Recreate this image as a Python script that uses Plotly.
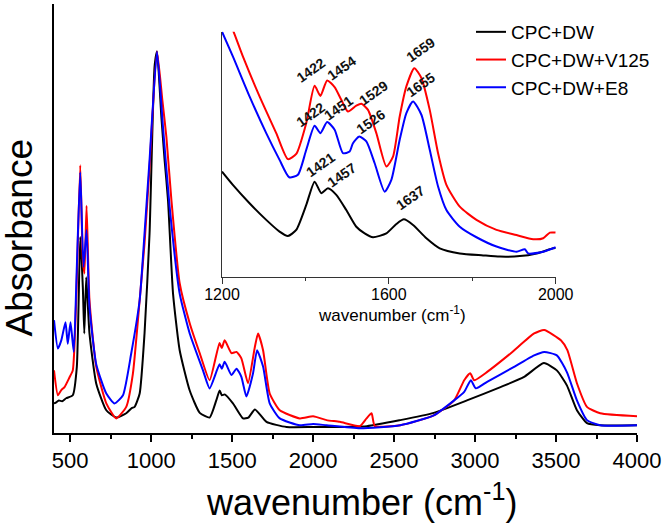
import plotly.graph_objects as go

# ---------------- main spectra ----------------
black_x = [400, 409, 430, 450, 475, 516, 541, 562, 578, 587, 599, 619, 661, 723, 784, 846, 880, 898, 929, 959, 990, 1021, 1036,
           1063, 1083, 1104, 1135, 1176, 1238, 1300, 1361, 1402, 1423, 1436, 1454, 1505, 1567, 1600, 1641, 1712, 1836, 2000,
           2332, 2538, 2745, 2950, 3157, 3300, 3425, 3505, 3567, 3629, 3691, 3773, 4000]
black_y = [0.069, 0.070, 0.076, 0.074, 0.081, 0.088, 0.154, 0.457, 0.340, 0.232, 0.363, 0.232, 0.115, 0.053, 0.036, 0.046, 0.058, 0.061,
           0.092, 0.232, 0.465, 0.854, 0.889, 0.737, 0.636, 0.543, 0.325, 0.193, 0.099, 0.047, 0.036, 0.076, 0.099, 0.088,
           0.090, 0.069, 0.034, 0.036, 0.055, 0.026, 0.014, 0.014, 0.016, 0.030, 0.047, 0.076, 0.107, 0.130, 0.163, 0.146,
           0.111, 0.053, 0.023, 0.018, 0.018]

red_x = [400, 424, 445, 465, 496, 516, 537, 562, 578, 588, 601, 619, 661, 723, 784, 846, 887, 929, 959, 990, 1036, 1069, 1094,
         1125, 1176, 1238, 1300, 1361, 1422, 1436, 1454, 1496, 1527, 1557, 1598, 1640, 1660, 1691, 1732, 1794, 1918, 2000, 2083,
         2165, 2289, 2330, 2361, 2381, 2538, 2745, 2871, 2933, 2970, 2995, 3077, 3221, 3365, 3427, 3530, 3570, 3629, 3691,
         3773, 4000]
red_y = [0.146, 0.088, 0.100, 0.107, 0.130, 0.146, 0.310, 0.624, 0.403, 0.372, 0.530, 0.310, 0.154, 0.069, 0.034, 0.061, 0.138,
         0.310, 0.442, 0.620, 0.889, 0.776, 0.690, 0.543, 0.349, 0.256, 0.186, 0.123, 0.210, 0.198, 0.216, 0.186, 0.189, 0.174,
         0.116, 0.200, 0.232, 0.193, 0.092, 0.053, 0.034, 0.039, 0.030, 0.026, 0.016, 0.034, 0.046, 0.016, 0.018, 0.041,
         0.076, 0.123, 0.139, 0.123, 0.143, 0.186, 0.232, 0.240, 0.216, 0.193, 0.116, 0.061, 0.046, 0.039]

blue_x = [400, 424, 445, 471, 485, 502, 522, 541, 562, 582, 601, 619, 661, 723, 774, 826, 877, 929, 959, 990, 1036, 1073, 1114,
          1176, 1238, 1320, 1361, 1422, 1436, 1454, 1496, 1527, 1557, 1588, 1629, 1654, 1691, 1732, 1794, 1918, 2000, 2083,
          2289, 2538, 2745, 2871, 2933, 2974, 3005, 3077, 3221, 3365, 3427, 3505, 3567, 3629, 3691, 3773, 4000]
blue_y = [0.263, 0.197, 0.216, 0.258, 0.208, 0.258, 0.189, 0.387, 0.608, 0.387, 0.473, 0.294, 0.160, 0.092, 0.069, 0.088, 0.186,
          0.310, 0.465, 0.636, 0.889, 0.713, 0.527, 0.325, 0.232, 0.146, 0.104, 0.160, 0.150, 0.166, 0.135, 0.150, 0.131,
          0.085, 0.139, 0.193, 0.155, 0.069, 0.034, 0.018, 0.021, 0.018, 0.011, 0.018, 0.041, 0.076, 0.096, 0.123, 0.104,
          0.120, 0.150, 0.181, 0.189, 0.181, 0.142, 0.076, 0.030, 0.018, 0.018]

# ---------------- inset spectra (1200-2000) ----------------
ins_black_x = [1200, 1226, 1266, 1306, 1338, 1358, 1378, 1402, 1422, 1438, 1454, 1474, 1498, 1522, 1542, 1562, 1594, 1618,
               1636, 1658, 1690, 1722, 1770, 1826, 1866, 1914, 1954, 1994, 2000]
ins_black_y = [0.429, 0.375, 0.300, 0.232, 0.184, 0.166, 0.191, 0.293, 0.388, 0.341, 0.361, 0.334, 0.272, 0.204, 0.177, 0.161,
               0.177, 0.215, 0.234, 0.211, 0.157, 0.116, 0.095, 0.087, 0.082, 0.084, 0.095, 0.116, 0.117]

ins_red_x = [1200, 1226, 1250, 1290, 1330, 1358, 1378, 1402, 1422, 1436, 1452, 1470, 1486, 1502, 1522, 1534, 1550, 1570,
             1594, 1610, 1626, 1642, 1661, 1678, 1698, 1718, 1738, 1770, 1810, 1858, 1906, 1946, 1970, 1986, 2000]
ins_red_y = [1.120, 1.008, 0.899, 0.736, 0.586, 0.480, 0.501, 0.627, 0.779, 0.738, 0.801, 0.774, 0.722, 0.674, 0.698, 0.706,
             0.681, 0.586, 0.450, 0.490, 0.654, 0.777, 0.851, 0.811, 0.681, 0.504, 0.375, 0.286, 0.232, 0.191, 0.170, 0.153,
             0.157, 0.180, 0.180]

ins_blue_x = [1200, 1226, 1266, 1306, 1338, 1361, 1382, 1402, 1422, 1436, 1452, 1470, 1490, 1506, 1514, 1529, 1546, 1566,
              1590, 1606, 1626, 1642, 1658, 1678, 1698, 1718, 1738, 1770, 1810, 1858, 1906, 1926, 1934, 1970, 2000]
ins_blue_y = [1.000, 0.899, 0.736, 0.586, 0.477, 0.406, 0.416, 0.518, 0.616, 0.586, 0.631, 0.600, 0.504, 0.511, 0.545, 0.572,
              0.552, 0.463, 0.347, 0.395, 0.559, 0.668, 0.715, 0.661, 0.518, 0.368, 0.272, 0.204, 0.161, 0.123, 0.102, 0.112,
              0.095, 0.102, 0.120]

# peak labels in the inset
peak_labels = ["1422", "1454", "1659", "1422", "1451", "1529", "1526", "1655", "1421", "1457", "1637"]
peak_label_x = [1413, 1487, 1675, 1411, 1479, 1563, 1555, 1675, 1435, 1487, 1651]
peak_label_y = [0.845, 0.852, 0.926, 0.661, 0.688, 0.749, 0.633, 0.783, 0.456, 0.416, 0.320]

series_names = ["CPC+DW", "CPC+DW+V125", "CPC+DW+E8"]
series_colors = ["#000000", "#ff0000", "#0000ff"]

main_x_ticks = [500, 1000, 1500, 2000, 2500, 3000, 3500, 4000]
inset_x_ticks = [1200, 1600, 2000]

FONT = "Liberation Sans, Arial, sans-serif"

fig = go.Figure()
main_sets = [(black_x, black_y), (red_x, red_y), (blue_x, blue_y)]
for (xs, ys), name, col in zip(main_sets, series_names, series_colors):
    fig.add_trace(go.Scatter(x=xs, y=ys, mode="lines", name=name,
                             line=dict(color=col, width=2, shape="spline", smoothing=0.5),
                             xaxis="x", yaxis="y"))

inset_sets = [(ins_black_x, ins_black_y), (ins_red_x, ins_red_y), (ins_blue_x, ins_blue_y)]
for (xs, ys), name, col in zip(inset_sets, series_names, series_colors):
    fig.add_trace(go.Scatter(x=xs, y=ys, mode="lines", name=name, showlegend=False,
                             line=dict(color=col, width=2, shape="spline", smoothing=0.6),
                             xaxis="x2", yaxis="y2"))

annotations = []
for t, ax, ay in zip(peak_labels, peak_label_x, peak_label_y):
    annotations.append(dict(x=ax, y=ay, xref="x2", yref="y2", text=t, showarrow=False,
                            xanchor="center", yanchor="middle",
                            textangle=-35, font=dict(family=FONT, size=14, color="#111111", weight="bold")))

# axis titles
annotations.append(dict(x=(362 - 54) / 583, y=-(500 - 433) / 429, xref="paper", yref="paper",
                        xanchor="center", yanchor="middle",
                        text="wavenumber (cm<sup>-1</sup>)", showarrow=False,
                        font=dict(family=FONT, size=36, color="#000000")))
annotations.append(dict(x=(19.5 - 54) / 583, y=(433 - 238) / 429, xref="paper", yref="paper",
                        xanchor="center", yanchor="middle",
                        text="Absorbance", textangle=-90, showarrow=False,
                        font=dict(family=FONT, size=37, color="#000000")))
annotations.append(dict(x=(392 - 54) / 583, y=(433 - 314) / 429, xref="paper", yref="paper",
                        xanchor="center", yanchor="middle",
                        text="wavenumber (cm<sup>-1</sup>)", showarrow=False,
                        font=dict(family=FONT, size=17, color="#000000")))

fig.update_layout(
    width=666, height=525,
    template="none",
    margin=dict(l=54, r=29, t=4, b=92),
    paper_bgcolor="white", plot_bgcolor="white",
    showlegend=True,
    legend=dict(x=(471 - 54) / 583, y=(433 - 13) / 429, xanchor="left", yanchor="top",
                itemwidth=30,
                bgcolor="rgba(0,0,0,0)", font=dict(family=FONT, size=19, color="#000000")),
    xaxis=dict(range=[400, 4000], tickvals=main_x_ticks, ticks="outside", ticklen=7, tickwidth=1.5,
               tickcolor="#000000", showline=True, linecolor="#000000", linewidth=1.5, showgrid=False,
               zeroline=False, tickfont=dict(family=FONT, size=22, color="#000000"),
               minor=dict(dtick=250, tick0=250, ticks="outside", ticklen=4, tickwidth=1.5, tickcolor="#000000",
                          showgrid=False),
               anchor="y"),
    yaxis=dict(range=[0, 1], showticklabels=False, ticks="", showline=True, linecolor="#000000", linewidth=1.5,
               showgrid=False, zeroline=False, anchor="x"),
    xaxis2=dict(domain=[(222 - 54) / 583, (555.7 - 54) / 583], range=[1200, 2000], anchor="y2",
                tickvals=inset_x_ticks, ticks="outside", ticklen=6, tickwidth=1.2, tickcolor="#333333",
                showline=True, linecolor="#333333", linewidth=1.2, showgrid=False, zeroline=False,
                ticklabelstandoff=-3,
                tickfont=dict(family=FONT, size=16, color="#000000"),
                minor=dict(tickvals=[1400, 1800], ticks="outside", ticklen=3, tickwidth=1.2, tickcolor="#333333",
                           showgrid=False)),
    yaxis2=dict(domain=[(433 - 276.7) / 429, (433 - 31.7) / 429], range=[0, 1], anchor="x2",
                showticklabels=False, ticks="", showline=True, linecolor="#333333", linewidth=1.2,
                showgrid=False, zeroline=False),
    annotations=annotations,
)

fig.write_html("out.html", config={"displayModeBar": False},
               post_script="document.body.style.margin='0';document.body.style.overflow='hidden';")
